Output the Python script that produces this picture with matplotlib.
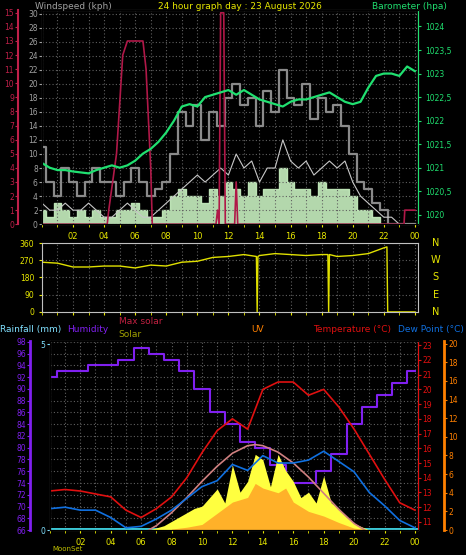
import matplotlib
matplotlib.use("Agg")
import matplotlib.pyplot as plt
import numpy as np

# ---------------- data ----------------
t30 = [i * 0.5 for i in range(49)]
baro = [1021.1, 1021.0, 1020.95, 1020.95, 1020.92, 1020.9, 1020.88, 1020.95, 1021.0, 1021.05,
        1021.0, 1021.05, 1021.15, 1021.3, 1021.4, 1021.55, 1021.75, 1022.0, 1022.3, 1022.35,
        1022.3, 1022.5, 1022.55, 1022.6, 1022.65, 1022.55, 1022.65, 1022.55, 1022.45, 1022.4,
        1022.35, 1022.3, 1022.4, 1022.45, 1022.45, 1022.5, 1022.55, 1022.6, 1022.5, 1022.4,
        1022.35, 1022.4, 1022.7, 1022.95, 1023.0, 1023.0, 1022.95, 1023.15, 1023.05]
gust = [11, 6, 4, 8, 6, 4, 6, 8, 6,
        6, 4, 6, 8, 6, 4, 5, 6,
        10, 16, 14, 17, 12, 16, 14, 18,
        20, 17, 18, 14, 19, 16, 22, 18,
        17, 20, 15, 18, 16, 17, 14, 10,
        6, 5, 3, 2, 0, 0, 0, 0]
avgwind = [3, 2, 2, 3, 2, 2, 3, 2, 1,
           1, 2, 3, 2, 1, 1, 2, 3,
           4, 5, 6, 7, 6, 7, 8, 7,
           10, 8, 9, 6, 8, 8, 12, 9,
           8, 9, 7, 8, 9, 8, 9, 6,
           4, 3, 2, 1, 1, 0, 0, 0]
wind = [2, 1, 3, 2, 1, 2, 1, 2, 1,
        1, 2, 2, 3, 2, 1, 1, 2,
        4, 5, 4, 4, 3, 5, 4, 6,
        5, 4, 6, 4, 5, 5, 8, 6,
        5, 5, 4, 6, 5, 5, 5, 4,
        2, 2, 1, 0, 0, 0, 0, 0]
red_t = [0, 4.2, 4.3, 4.8, 5.2, 5.5, 6.5, 6.7, 7.0, 7.1, 11.2, 11.3, 11.4, 11.5, 11.7, 11.8,
         12.4, 12.5, 12.6, 23.3, 23.35, 24]
red_v = [0, 0, 1, 5, 12, 13, 13, 11, 4, 0, 0, 1, 0, 15, 15, 0, 0, 3, 0, 0, 1, 1]

dir_t = [0, 1, 2, 3, 4, 5, 6, 7, 8, 9, 10, 11, 12, 13, 13.8, 13.85, 13.9, 14, 15, 16, 17,
         18, 18.4, 18.45, 18.5, 19, 20, 21, 22, 22.2, 22.25, 24]
dir_v = [260, 255, 235, 235, 240, 240, 230, 245, 240, 260, 265, 285, 290, 300, 290, 0, 290,
         295, 305, 300, 295, 300, 300, 0, 300, 290, 295, 305, 335, 340, 0, 0]

t1 = list(range(25))
humidity = [92, 93, 93, 94, 94, 95, 97, 96, 95, 93, 90, 86, 84, 81, 80, 77, 74, 74, 76, 79,
            84, 87, 89, 91, 93]
temp = [13.1, 13.2, 13.1, 12.9, 12.7, 11.8, 11.3, 11.9, 12.7, 14.0, 15.7, 17.2, 18.0, 17.3,
        20.0, 20.5, 20.5, 19.6, 20.0, 18.8, 17.3, 15.6, 13.9, 12.3, 11.8]
dew = [11.9, 12.0, 11.8, 11.8, 11.3, 10.6, 10.7, 11.2, 11.8, 12.6, 13.4, 13.8, 14.9, 14.5,
       15.5, 15.0, 15.0, 15.2, 15.8, 15.1, 14.4, 13.0, 12.1, 11.1, 10.6]
maxsol_t = [6.5, 7, 8, 9, 10, 11, 12, 13, 13.5, 14, 15, 16, 17, 18, 19, 20, 20.7]
maxsol = [0, 40, 160, 300, 450, 590, 710, 780, 790, 780, 720, 620, 490, 340, 190, 60, 0]
sol_t = [6.5 + 0.5 * i for i in range(30)]
solar = [0, 20, 40, 80, 120, 160, 200, 220, 300, 380, 250, 600, 350, 450, 700, 650, 400, 700,
         550, 450, 300, 350, 250, 500, 250, 200, 120, 60, 30, 0]
uv_t = [8, 9, 10, 11, 12, 13, 13.5, 14, 15, 15.5, 16, 17, 18, 19, 20, 21]
uv = [0.1, 0.3, 0.6, 1.8, 3, 3.5, 5, 4.5, 4, 4.5, 3, 2, 1.5, 0.8, 0.2, 0]
hour_ticks = list(range(2, 25, 2))
hour_labels = ["02", "04", "06", "08", "10", "12", "14", "16", "18", "20", "22", "00"]

# ---------------- style ----------------
BG = "black"
GRID = dict(color="#606060", linestyle=(0, (1, 2)), linewidth=0.8)
YEL = "#e8e800"
fig = plt.figure(figsize=(4.66, 5.55), dpi=100, facecolor=BG)


def base(ax):
    ax.set_facecolor(BG)
    for s in ax.spines.values():
        s.set_color("#c0c0c0")
    ax.set_xlim(0, 24.2)
    ax.set_xticks(hour_ticks)
    ax.set_xticks(range(25), minor=True)
    ax.grid(True, which="both", axis="x", **GRID)
    ax.grid(True, axis="y", **GRID)
    ax.tick_params(axis="x", colors=YEL, labelsize=6, length=2, which="both")
    ax.set_xticklabels(hour_labels)


# ---------------- top panel ----------------
ax1 = fig.add_axes([0.090, 0.596, 0.807, 0.386])
base(ax1)
ax1.set_ylim(0, 30.5)
ax1.set_yticks(range(0, 31, 2))
ax1.tick_params(axis="y", colors="#a0a0a0", labelsize=5.5, length=2, pad=1)
ax1.step(t30, gust, where="mid", color="#8a8a8a", lw=1.6)
ax1.fill_between(t30, wind, step="mid", color="#c8f0c0", alpha=0.9)
ax1.plot(t30, avgwind, color="#c8c8c8", lw=0.8)

axr = ax1.twinx()
axr.set_ylim(0, 15.2)
axr.spines["left"].set_position(("outward", 17))
axr.spines["left"].set_color("#c0204a")
axr.spines["left"].set_linewidth(1.5)
axr.yaxis.set_ticks_position("left")
axr.yaxis.set_label_position("left")
axr.set_yticks(range(16))
axr.tick_params(axis="y", colors="#c0204a", labelsize=5.5, length=2, pad=1)
axr.spines["right"].set_visible(False)
axr.plot(red_t, red_v, color="#b01848", lw=1.2)

axb = ax1.twinx()
axb.set_ylim(1019.8, 1024.35)
axb.set_yticks(np.arange(1020, 1024.01, 0.5))
axb.set_yticklabels([("%g" % v).replace(".", ",") for v in np.arange(1020, 1024.01, 0.5)])
axb.tick_params(axis="y", colors="#20e070", labelsize=5.5, length=2)
axb.spines["right"].set_color("#20e070")
axb.plot(t30, baro, color="#20e070", lw=1.6)

fig.text(0.075, 0.988, "Windspeed (kph)", color="#a0a0a0", fontsize=6.5, ha="left", va="center")
fig.text(0.515, 0.988, "24 hour graph day : 23 August 2026", color=YEL, fontsize=6.5, ha="center", va="center")
fig.text(0.96, 0.988, "Barometer (hpa)", color="#20e070", fontsize=6.5, ha="right", va="center")

# ---------------- middle panel ----------------
ax2 = fig.add_axes([0.090, 0.438, 0.807, 0.124])
base(ax2)
ax2.set_ylim(0, 360)
ax2.set_yticks([0, 90, 180, 270, 360])
ax2.tick_params(axis="y", colors=YEL, labelsize=5.5, length=2)
ax2.set_xticklabels([])
ax2.plot(dir_t, dir_v, color="#e0e000", lw=1.0)
for lab, frac in zip(["N", "W", "S", "E", "N"], [1, 0.75, 0.5, 0.25, 0]):
    fig.text(0.935, 0.438 + 0.124 * frac, lab, color=YEL, fontsize=7, ha="center", va="center")

# ---------------- bottom panel ----------------
ax3 = fig.add_axes([0.107, 0.045, 0.790, 0.341])
base(ax3)
ax3.set_ylim(0, 5.1)
ax3.set_yticks([0, 5])
ax3.tick_params(axis="y", colors="#80e0ff", labelsize=5.5, length=2, pad=1)
ax3.grid(False, axis="y")
ax3.axhline(0.02, color="#40e0f0", lw=2)

axh = ax3.twinx()
axh.set_ylim(66, 98.2)
axh.set_yticks(range(66, 99, 2))
axh.spines["left"].set_position(("outward", 14))
axh.spines["left"].set_color("#8020f0")
axh.spines["left"].set_linewidth(2)
axh.spines["right"].set_visible(False)
axh.yaxis.set_ticks_position("left")
axh.tick_params(axis="y", colors="#8020f0", labelsize=5.5, length=2, pad=1)
axh.grid(True, axis="y", **GRID)

axs = ax3.twinx()
axs.set_ylim(0, 1750)
axs.axis("off")
axs.fill_between(sol_t, solar, color="#ffff40", lw=0)
axs.plot(maxsol_t, maxsol, color="#d08080", lw=1.2)

axu = ax3.twinx()
axu.set_ylim(0, 20.3)
axu.set_yticks(range(0, 21, 2))
axu.spines["right"].set_position(("outward", 19))
axu.spines["right"].set_color("#ff8000")
axu.spines["right"].set_linewidth(2)
axu.tick_params(axis="y", colors="#ff8000", labelsize=5.5, length=2, pad=1)
axu.fill_between(uv_t, uv, color="#ff9020", alpha=0.7, lw=0)

axt = ax3.twinx()
axt.set_ylim(10.45, 23.3)
axt.set_yticks(range(11, 24))
axt.spines["right"].set_color("#e01010")
axt.tick_params(axis="y", colors="#e01010", labelsize=5.5, length=2, pad=1)
axh.step(t1, humidity, where="mid", color="#8020f0", lw=1.5)
axt.plot(t1, temp, color="#e01010", lw=1.2)
axt.plot(t1, dew, color="#1070e0", lw=1.2)

fig.text(0.0, 0.407, "Rainfall (mm)", color="#80e0ff", fontsize=6.5, va="center")
fig.text(0.145, 0.407, "Humidity", color="#8020f0", fontsize=6.5, va="center")
fig.text(0.255, 0.420, "Max solar", color="#c02040", fontsize=6.5, va="center")
fig.text(0.255, 0.398, "Solar", color="#a0a000", fontsize=6.5, va="center")
fig.text(0.54, 0.407, "UV", color="#ff8000", fontsize=6.5, va="center")
fig.text(0.84, 0.407, "Temperature (°C)", color="#e01010", fontsize=6.5, ha="right", va="center")
fig.text(0.995, 0.407, "Dew Point (°C)", color="#1070e0", fontsize=6.5, ha="right", va="center")
fig.text(0.112, 0.010, "MoonSet", color="#c0c000", fontsize=5, va="center")

fig.savefig("out.png", dpi=100, facecolor=BG)
